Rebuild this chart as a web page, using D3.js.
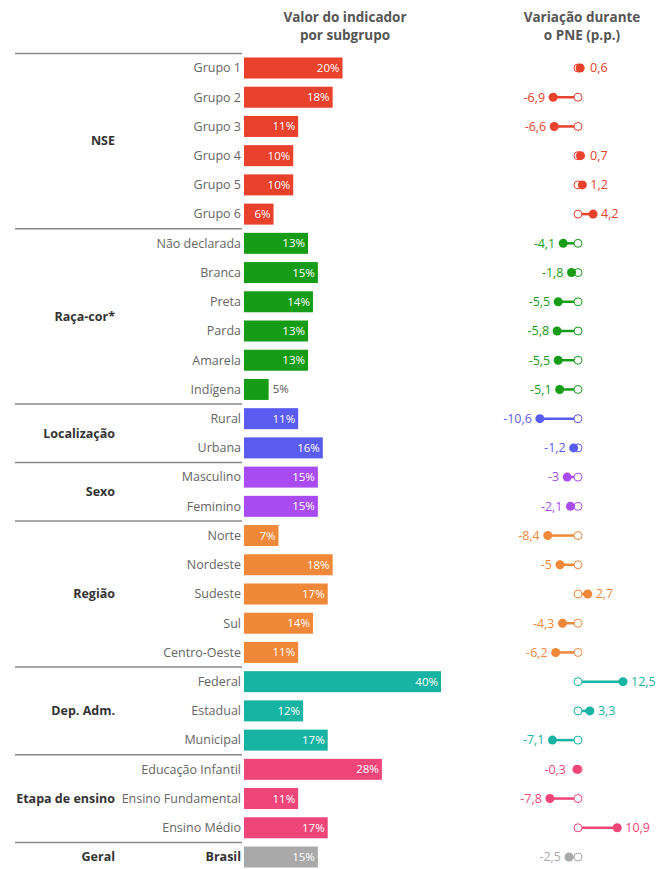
<!DOCTYPE html>
<html>
<head>
<meta charset="utf-8">
<script src="https://cdn.jsdelivr.net/npm/d3@7"></script>
<style>
  body { margin: 0; background: #fff; }
  text { font-family: "Open Sans", sans-serif; }
</style>
</head>
<body>
<div id="chart"></div>
<script>
// grupos e subgrupos
var groups = ["NSE", "Raça-cor*", "Localização", "Sexo", "Região", "Dep. Adm.", "Etapa de ensino", "Geral"];
var groupColors = ["#e8412c", "#179c17", "#5a5cf0", "#a84cf2", "#f0883a", "#17b3a3", "#ef4679", "#a9a9a9"];
var subgroups = [
  ["Grupo 1", "Grupo 2", "Grupo 3", "Grupo 4", "Grupo 5", "Grupo 6"],
  ["Não declarada", "Branca", "Preta", "Parda", "Amarela", "Indígena"],
  ["Rural", "Urbana"],
  ["Masculino", "Feminino"],
  ["Norte", "Nordeste", "Sudeste", "Sul", "Centro-Oeste"],
  ["Federal", "Estadual", "Municipal"],
  ["Educação Infantil", "Ensino Fundamental", "Ensino Médio"],
  ["Brasil"]
];
// valor do indicador (%)
var values = [
  [20, 18, 11, 10, 10, 6],
  [13, 15, 14, 13, 13, 5],
  [11, 16],
  [15, 15],
  [7, 18, 17, 14, 11],
  [40, 12, 17],
  [28, 11, 17],
  [15]
];
// variação durante o PNE (p.p.)
var variation = [
  [0.6, -6.9, -6.6, 0.7, 1.2, 4.2],
  [-4.1, -1.8, -5.5, -5.8, -5.5, -5.1],
  [-10.6, -1.2],
  [-3, -2.1],
  [-8.4, -5, 2.7, -4.3, -6.2],
  [12.5, 3.3, -7.1],
  [-0.3, -7.8, 10.9],
  [-2.5]
];

var rows = [];
groups.forEach(function(g, gi) {
  subgroups[gi].forEach(function(s, si) {
    rows.push({group: g, gi: gi, name: s, value: values[gi][si], change: variation[gi][si]});
  });
});

var width = 660, height = 869;
var svg = d3.select("#chart").append("svg")
  .attr("width", width)
  .attr("height", height);

var y = d3.scalePoint()
  .domain(rows.map(function(d) { return d.name; }))
  .range([68, 857]);
var step = y.step();

var x = d3.scaleLinear().domain([0, 40]).range([244, 441]);
var xv = d3.scaleLinear().domain([-12, 14]).range([534.8, 628.4]);

var fmt = function(v) { return String(v).replace(".", ","); };

// cabeçalhos
var head = svg.append("g").attr("font-size", 13.5).attr("font-weight", "bold").attr("fill", "#555").attr("text-anchor", "middle");
head.append("text").attr("x", 345).attr("y", 22).text("Valor do indicador");
head.append("text").attr("x", 345).attr("y", 40).text("por subgrupo");
head.append("text").attr("x", 582).attr("y", 22).text("Variação durante");
head.append("text").attr("x", 582).attr("y", 40).text("o PNE (p.p.)");

// linhas separadoras
var seps = [y(rows[0].name) - step / 2];
rows.forEach(function(d, i) {
  if (i > 0 && rows[i - 1].gi !== d.gi) seps.push(y(d.name) - step / 2);
});
svg.selectAll("line.sep")
  .data(seps)
  .enter().append("line")
  .attr("class", "sep")
  .attr("x1", 15).attr("x2", 242)
  .attr("y1", function(d) { return d; })
  .attr("y2", function(d) { return d; })
  .attr("stroke", "#8a8a8a")
  .attr("stroke-width", 1.5);

// rótulos de grupo
svg.selectAll("text.group")
  .data(groups)
  .enter().append("text")
  .attr("class", "group")
  .attr("x", 115)
  .attr("y", function(g, gi) {
    var s = subgroups[gi];
    return (y(s[0]) + y(s[s.length - 1])) / 2;
  })
  .attr("dy", "0.35em")
  .attr("text-anchor", "end")
  .attr("font-size", 12.5)
  .attr("font-weight", "bold")
  .attr("fill", "#333")
  .text(function(g) { return g; });

var row = svg.selectAll("g.row")
  .data(rows)
  .enter().append("g")
  .attr("class", "row")
  .attr("transform", function(d) { return "translate(0," + y(d.name) + ")"; });

row.append("text")
  .attr("x", 241)
  .attr("dy", "0.35em")
  .attr("text-anchor", "end")
  .attr("font-size", 12.5)
  .attr("font-weight", function(d) { return d.name === "Brasil" ? "bold" : "normal"; })
  .attr("fill", function(d) { return d.name === "Brasil" ? "#333" : "#666"; })
  .text(function(d) { return d.name; });

row.append("rect")
  .attr("x", x(0))
  .attr("y", -10.5)
  .attr("height", 21)
  .attr("width", function(d) { return x(d.value) - x(0); })
  .attr("fill", function(d) { return groupColors[d.gi]; });

row.append("text")
  .attr("x", function(d) { return d.value < 6 ? x(d.value) + 4 : x(d.value) - 3; })
  .attr("dy", "0.35em")
  .attr("text-anchor", function(d) { return d.value < 6 ? "start" : "end"; })
  .attr("font-size", 11.5)
  .attr("fill", function(d) { return d.value < 6 ? "#555" : "#fff"; })
  .text(function(d) { return d.value + "%"; });

// halteres
row.append("line")
  .attr("x1", xv(0))
  .attr("x2", function(d) { return xv(d.change); })
  .attr("stroke", function(d) { return groupColors[d.gi]; })
  .attr("stroke-width", 2.5);

row.append("circle")
  .attr("cx", xv(0))
  .attr("r", 4)
  .attr("fill", "#fff")
  .attr("stroke", function(d) { return groupColors[d.gi]; })
  .attr("stroke-width", 1);

row.append("circle")
  .attr("cx", function(d) { return xv(d.change); })
  .attr("r", 4.5)
  .attr("fill", function(d) { return groupColors[d.gi]; });

row.append("text")
  .attr("x", function(d) {
    return d.change < 0 ? Math.min(xv(d.change), xv(0) - 4) - 8 : Math.max(xv(d.change), xv(0) + 4) + 8;
  })
  .attr("dy", "0.35em")
  .attr("text-anchor", function(d) { return d.change < 0 ? "end" : "start"; })
  .attr("font-size", 12.5)
  .attr("fill", function(d) { return groupColors[d.gi]; })
  .text(function(d) { return fmt(d.change); });
</script>
</body>
</html>
